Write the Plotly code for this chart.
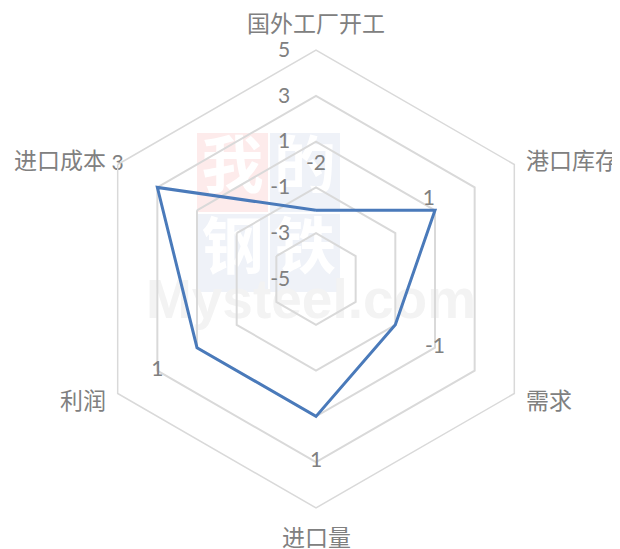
import math
import plotly.graph_objects as go

categories = ["国外工厂开工", "港口库存", "需求", "进口量", "利润", "进口成本"]
values = [-2, 1, -1, 1, 1, 3]
tick_vals = [-5, -3, -1, 1, 3, 5]
tick_text = ["-5", "-3", "-1", "1", "3", "5"]

AXIS_MIN, AXIS_MAX = -5, 5

LINE = "#4a7aba"
GRID = "#d9d9d9"
TXT = "#808080"
NUMFONT = "Lato, Noto Sans CJK SC"
CJKFONT = "Noto Sans CJK SC"

label_offset = [2, 0, 2, 2, 2, 2]
label_pos = ["middle center", "top left", "middle center", "middle center", "middle center", "middle center"]


def rr(v):
    # radial scale starting at the axis minimum
    return v - AXIS_MIN


W, H = 620, 549
cx, cy, R = 308, 271, 229   # polar centre / radius in figure pixels

fig = go.Figure()

# ---- faint watermark (drawn on a hidden cartesian layer beneath the polar chart)
wm_boxes = [
    (189, 125, 260, 204, "#fdebeb", "我"),
    (262, 125, 332, 204, "#eff2f8", "的"),
    (189, 206, 260, 284, "#eff2f8", "钢"),
    (262, 206, 332, 284, "#eff2f8", "铁"),
]
for x0, y0, x1, y1, col, ch in wm_boxes:
    fig.add_shape(type="rect", xref="paper", yref="paper",
                  x0=x0 / W, x1=x1 / W, y0=1 - y1 / H, y1=1 - y0 / H,
                  fillcolor=col, line=dict(width=0), layer="below")
fig.add_trace(go.Scatter(
    x=[(b[0] + b[2]) / 2 for b in wm_boxes] + [303],
    y=[(b[1] + b[3]) / 2 for b in wm_boxes] + [296],
    mode="text",
    text=[b[5] for b in wm_boxes] + ["Mysteel.com"],
    textfont=dict(family=[CJKFONT] * 4 + ["Liberation Sans"],
                  size=[62] * 4 + [55],
                  color=["white"] * 4 + ["#f3f3f3"],
                  weight=["bold"] * 5),
    hoverinfo="skip",
    showlegend=False,
    xaxis="x", yaxis="y",
))

# ---- data line
fig.add_trace(go.Scatterpolar(
    r=[rr(v) for v in values + values[:1]],
    theta=categories + categories[:1],
    mode="lines",
    line=dict(color=LINE, width=3),
    hoverinfo="skip",
    showlegend=False,
))

# ---- data labels
fig.add_trace(go.Scatterpolar(
    r=[rr(v + o) for v, o in zip(values, label_offset)],
    theta=categories,
    mode="text",
    text=[str(v) for v in values],
    textposition=label_pos,
    textfont=dict(family=NUMFONT, size=21, color=TXT),
    cliponaxis=False,
    hoverinfo="skip",
    showlegend=False,
))

# ---- category labels placed around the outer hexagon
annotations = []
n = len(categories)
for k, cat in enumerate(categories):
    ang = math.radians(90 - 360 * k / n)
    vx, vy = R * math.cos(ang), R * math.sin(ang)   # vertex, y up
    if abs(math.cos(ang)) < 1e-6:
        px, py = vx, vy + math.copysign(28, vy)
        xanchor = "center"
    else:
        px = vx + math.copysign(10, vx)
        py = vy * 1.045
        xanchor = "left" if vx > 0 else "right"
    annotations.append(dict(
        text=cat, showarrow=False, xref="paper", yref="paper",
        x=(cx + px) / W, y=1 - (cy - py) / H,
        xanchor=xanchor, yanchor="middle",
        font=dict(family=CJKFONT, size=23, color=TXT),
    ))

fig.update_layout(
    width=W, height=H,
    margin=dict(l=0, r=0, t=0, b=0),
    paper_bgcolor="white",
    plot_bgcolor="rgba(0,0,0,0)",
    xaxis=dict(range=[0, W], visible=False, domain=[0, 1], fixedrange=True),
    yaxis=dict(range=[H, 0], visible=False, domain=[0, 1], fixedrange=True),
    annotations=annotations,
    polar=dict(
        domain=dict(x=[(cx - R) / W, (cx + R) / W], y=[(H - cy - R) / H, (H - cy + R) / H]),
        bgcolor="rgba(0,0,0,0)",
        gridshape="linear",
        radialaxis=dict(
            range=[rr(AXIS_MIN), rr(AXIS_MAX)],
            tickvals=[rr(t) for t in tick_vals],
            ticktext=tick_text,
            angle=90,
            tickangle=90,
            side="counterclockwise",
            showline=False,
            gridcolor=GRID,
            gridwidth=1.5,
            ticks="outside",
            ticklen=18,
            tickcolor="rgba(0,0,0,0)",
            tickfont=dict(family=NUMFONT, size=21, color=TXT),
        ),
        angularaxis=dict(
            rotation=90,
            direction="clockwise",
            showgrid=False,
            showline=True,
            linecolor=GRID,
            linewidth=1.5,
            ticks="",
            showticklabels=False,
        ),
    ),
)

fig.write_html("out.html")
